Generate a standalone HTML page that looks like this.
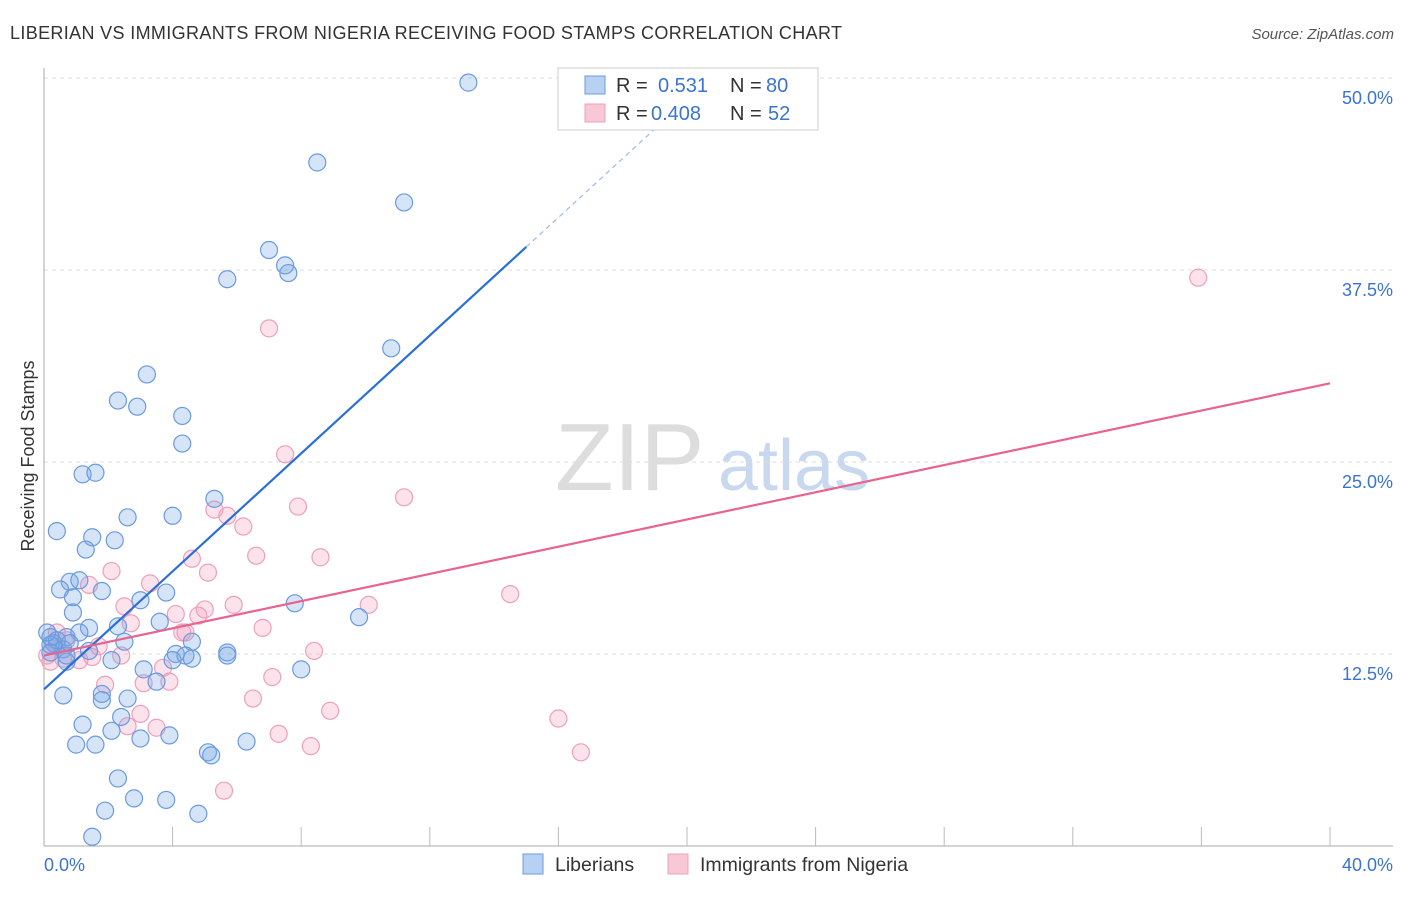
<!DOCTYPE html>
<html><head><meta charset="utf-8"><style>
body{margin:0;background:#fff;font-family:"Liberation Sans",sans-serif}
svg text{font-family:"Liberation Sans",sans-serif}
</style></head><body>
<svg id="c" width="1406" height="892" xmlns="http://www.w3.org/2000/svg">
<text x="10" y="39" font-size="18" fill="#333" letter-spacing="0.35">LIBERIAN VS IMMIGRANTS FROM NIGERIA RECEIVING FOOD STAMPS CORRELATION CHART</text>
<text x="1394" y="39" font-size="15" fill="#555" font-style="italic" text-anchor="end">Source: ZipAtlas.com</text>
<text x="555" y="490" font-size="96" fill="#ddd" font-family="Liberation Serif,serif">ZIP</text>
<text x="718" y="490" font-size="72" fill="#c8d8ef">atlas</text>
<text transform="translate(34,456) rotate(-90)" font-size="18" fill="#333" text-anchor="middle">Receiving Food Stamps</text>
<g id="grid"></g><g id="marks"></g><g id="lines"></g>
<g>
<rect x="558" y="68" width="260" height="62" fill="#fff" stroke="#ccc"/>
<rect x="585" y="76" width="20" height="18" fill="#b8d1f3" stroke="#6a9ae0"/>
<text x="616" y="92" font-size="20" fill="#333">R =</text><text x="658" y="92" font-size="20" fill="#3a74d0">0.531</text>
<text x="730" y="92" font-size="20" fill="#333">N =</text><text x="766" y="92" font-size="20" fill="#3a74d0">80</text>
<rect x="585" y="104" width="20" height="18" fill="#f8c8d6" stroke="#eea0bb"/>
<text x="616" y="120" font-size="20" fill="#333">R =</text><text x="651" y="120" font-size="20" fill="#3a74d0">0.408</text>
<text x="730" y="120" font-size="20" fill="#333">N =</text><text x="768" y="120" font-size="20" fill="#3a74d0">52</text>
</g>
<g>
<rect x="523" y="854" width="20" height="20" fill="#b8d1f3" stroke="#6a9ae0"/>
<text x="555" y="871" font-size="19.5" fill="#333">Liberians</text>
<rect x="668" y="854" width="20" height="20" fill="#f8c8d6" stroke="#eea0bb"/>
<text x="700" y="871" font-size="19.5" fill="#333">Immigrants from Nigeria</text>
</g>
</svg>
<script>
const blueX=[13.2,8.5,11.2,7.0,5.7,7.5,7.6,10.8,3.2,2.3,2.9,4.3,4.3,1.2,1.6,5.3,4.0,2.6,0.4,1.5,2.2,1.3,0.8,1.1,0.5,1.8,0.9,3.8,3.0,0.9,7.8,9.8,3.6,2.3,1.4,1.1,0.7,0.2,0.3,2.5,4.6,0.6,1.4,4.1,4.4,5.7,4.6,5.7,2.1,4.0,0.7,8.0,3.1,3.5,0.6,1.8,1.8,2.6,1.2,2.4,2.1,3.0,3.9,1.0,1.6,6.3,5.1,5.2,2.3,2.8,3.8,1.9,4.8,1.5,0.2,0.4,0.2,0.7,0.8,0.1];
const blueY=[49.7,44.5,41.9,38.8,36.9,37.8,37.3,32.4,30.7,29.0,28.6,28.0,26.2,24.2,24.3,22.6,21.5,21.4,20.5,20.1,19.9,19.3,17.2,17.3,16.7,16.6,16.2,16.5,16.0,15.2,15.8,14.9,14.6,14.3,14.2,13.9,13.6,13.6,13.2,13.3,13.3,12.8,12.7,12.5,12.4,12.6,12.2,12.4,12.1,12.1,12.0,11.5,11.5,10.7,9.8,9.9,9.5,9.6,7.9,8.4,7.5,7.0,7.2,6.6,6.6,6.8,6.1,5.9,4.4,3.1,3.0,2.3,2.1,0.6,13.1,13.4,12.6,12.4,13.2,13.9];
const pinkX=[35.9,7.0,7.5,11.2,5.3,7.9,5.7,6.2,4.6,8.6,6.6,2.1,3.3,5.1,1.4,14.5,2.5,5.0,5.9,10.1,4.1,4.8,2.7,6.8,4.3,4.4,0.4,0.7,1.7,8.4,1.5,2.4,1.1,3.7,0.2,7.1,1.9,3.1,3.9,6.5,8.9,3.0,16.0,3.5,2.6,7.3,8.3,16.7,5.6,0.1,0.4,0.6];
const pinkY=[37.0,33.7,25.5,22.7,21.9,22.1,21.5,20.8,18.7,18.8,18.9,17.9,17.1,17.8,17.0,16.4,15.6,15.4,15.7,15.7,15.1,15.0,14.5,14.2,13.9,13.9,13.9,13.4,13.0,12.7,12.3,12.4,12.1,11.6,12.0,11.0,10.5,10.6,10.7,9.6,8.8,8.6,8.3,7.7,7.8,7.3,6.5,6.1,3.6,12.4,13.0,12.2];
const yTicks=[12.5,25.0,37.5,50.0];
const xTickLabels=["0.0%","40.0%"];
const blueFit=[10.2,1.92];
const pinkFit=[12.4,0.443];
const sx=v=>44+v/40*1286, sy=v=>846-v/12.5*192;
const NS="http://www.w3.org/2000/svg";
function mk(p,t,a){const e=document.createElementNS(NS,t);for(const k in a)e.setAttribute(k,a[k]);p.appendChild(e);return e;}
const G=document.getElementById('grid'),M=document.getElementById('marks'),L=document.getElementById('lines');
for(const t of yTicks){
 const g=mk(G,'line',{x1:44,x2:1393,y1:sy(t),y2:sy(t),stroke:'#ddd','stroke-dasharray':'4 4'});
 
 
 const tx=mk(G,'text',{x:1393,y:sy(t)+26,'font-size':18,fill:'#3a74d0','text-anchor':'end'});
 tx.textContent=t.toFixed(1)+'%';
 
 
}
mk(G,'line',{x1:44,x2:44,y1:68,y2:846,stroke:'#aaa'});
mk(G,'line',{x1:44,x2:1393,y1:846,y2:846,stroke:'#aaa'});
for(let v=4;v<=40;v+=4){const tk=mk(G,'line',{x1:sx(v),x2:sx(v),y1:827,y2:846,stroke:'#bbb'});
 
 }
const xl0=mk(G,'text',{x:44,y:871,'font-size':18,fill:'#3a74d0'});xl0.textContent=xTickLabels[0];


const xl1=mk(G,'text',{x:1393,y:871,'font-size':18,fill:'#3a74d0','text-anchor':'end'});xl1.textContent=xTickLabels[1];


pinkX.forEach((x,i)=>{const c=mk(M,'circle',{cx:sx(x),cy:sy(pinkY[i]),r:8.5,fill:'rgba(244,160,188,0.3)',stroke:'#eea0bb','stroke-width':1.2});
 
 });
blueX.forEach((x,i)=>{const c=mk(M,'circle',{cx:sx(x),cy:sy(blueY[i]),r:8.5,fill:'rgba(120,165,230,0.3)',stroke:'#6a9ae0','stroke-width':1.2});
 
 });
const bl=mk(L,'line',{x1:sx(0),y1:sy(blueFit[0]),x2:sx(15),y2:sy(blueFit[0]+blueFit[1]*15),stroke:'#2a6fd6','stroke-width':2.2});


const bd=mk(L,'line',{x1:sx(15),y1:sy(blueFit[0]+blueFit[1]*15),x2:sx(19.5),y2:sy(blueFit[0]+blueFit[1]*19.5),stroke:'#9bbbe8','stroke-width':1.2,'stroke-dasharray':'5 4'});


const pl=mk(L,'line',{x1:sx(0),y1:sy(pinkFit[0]),x2:sx(40),y2:sy(pinkFit[0]+pinkFit[1]*40),stroke:'#e8638f','stroke-width':2.2});


</script>
</body></html>
